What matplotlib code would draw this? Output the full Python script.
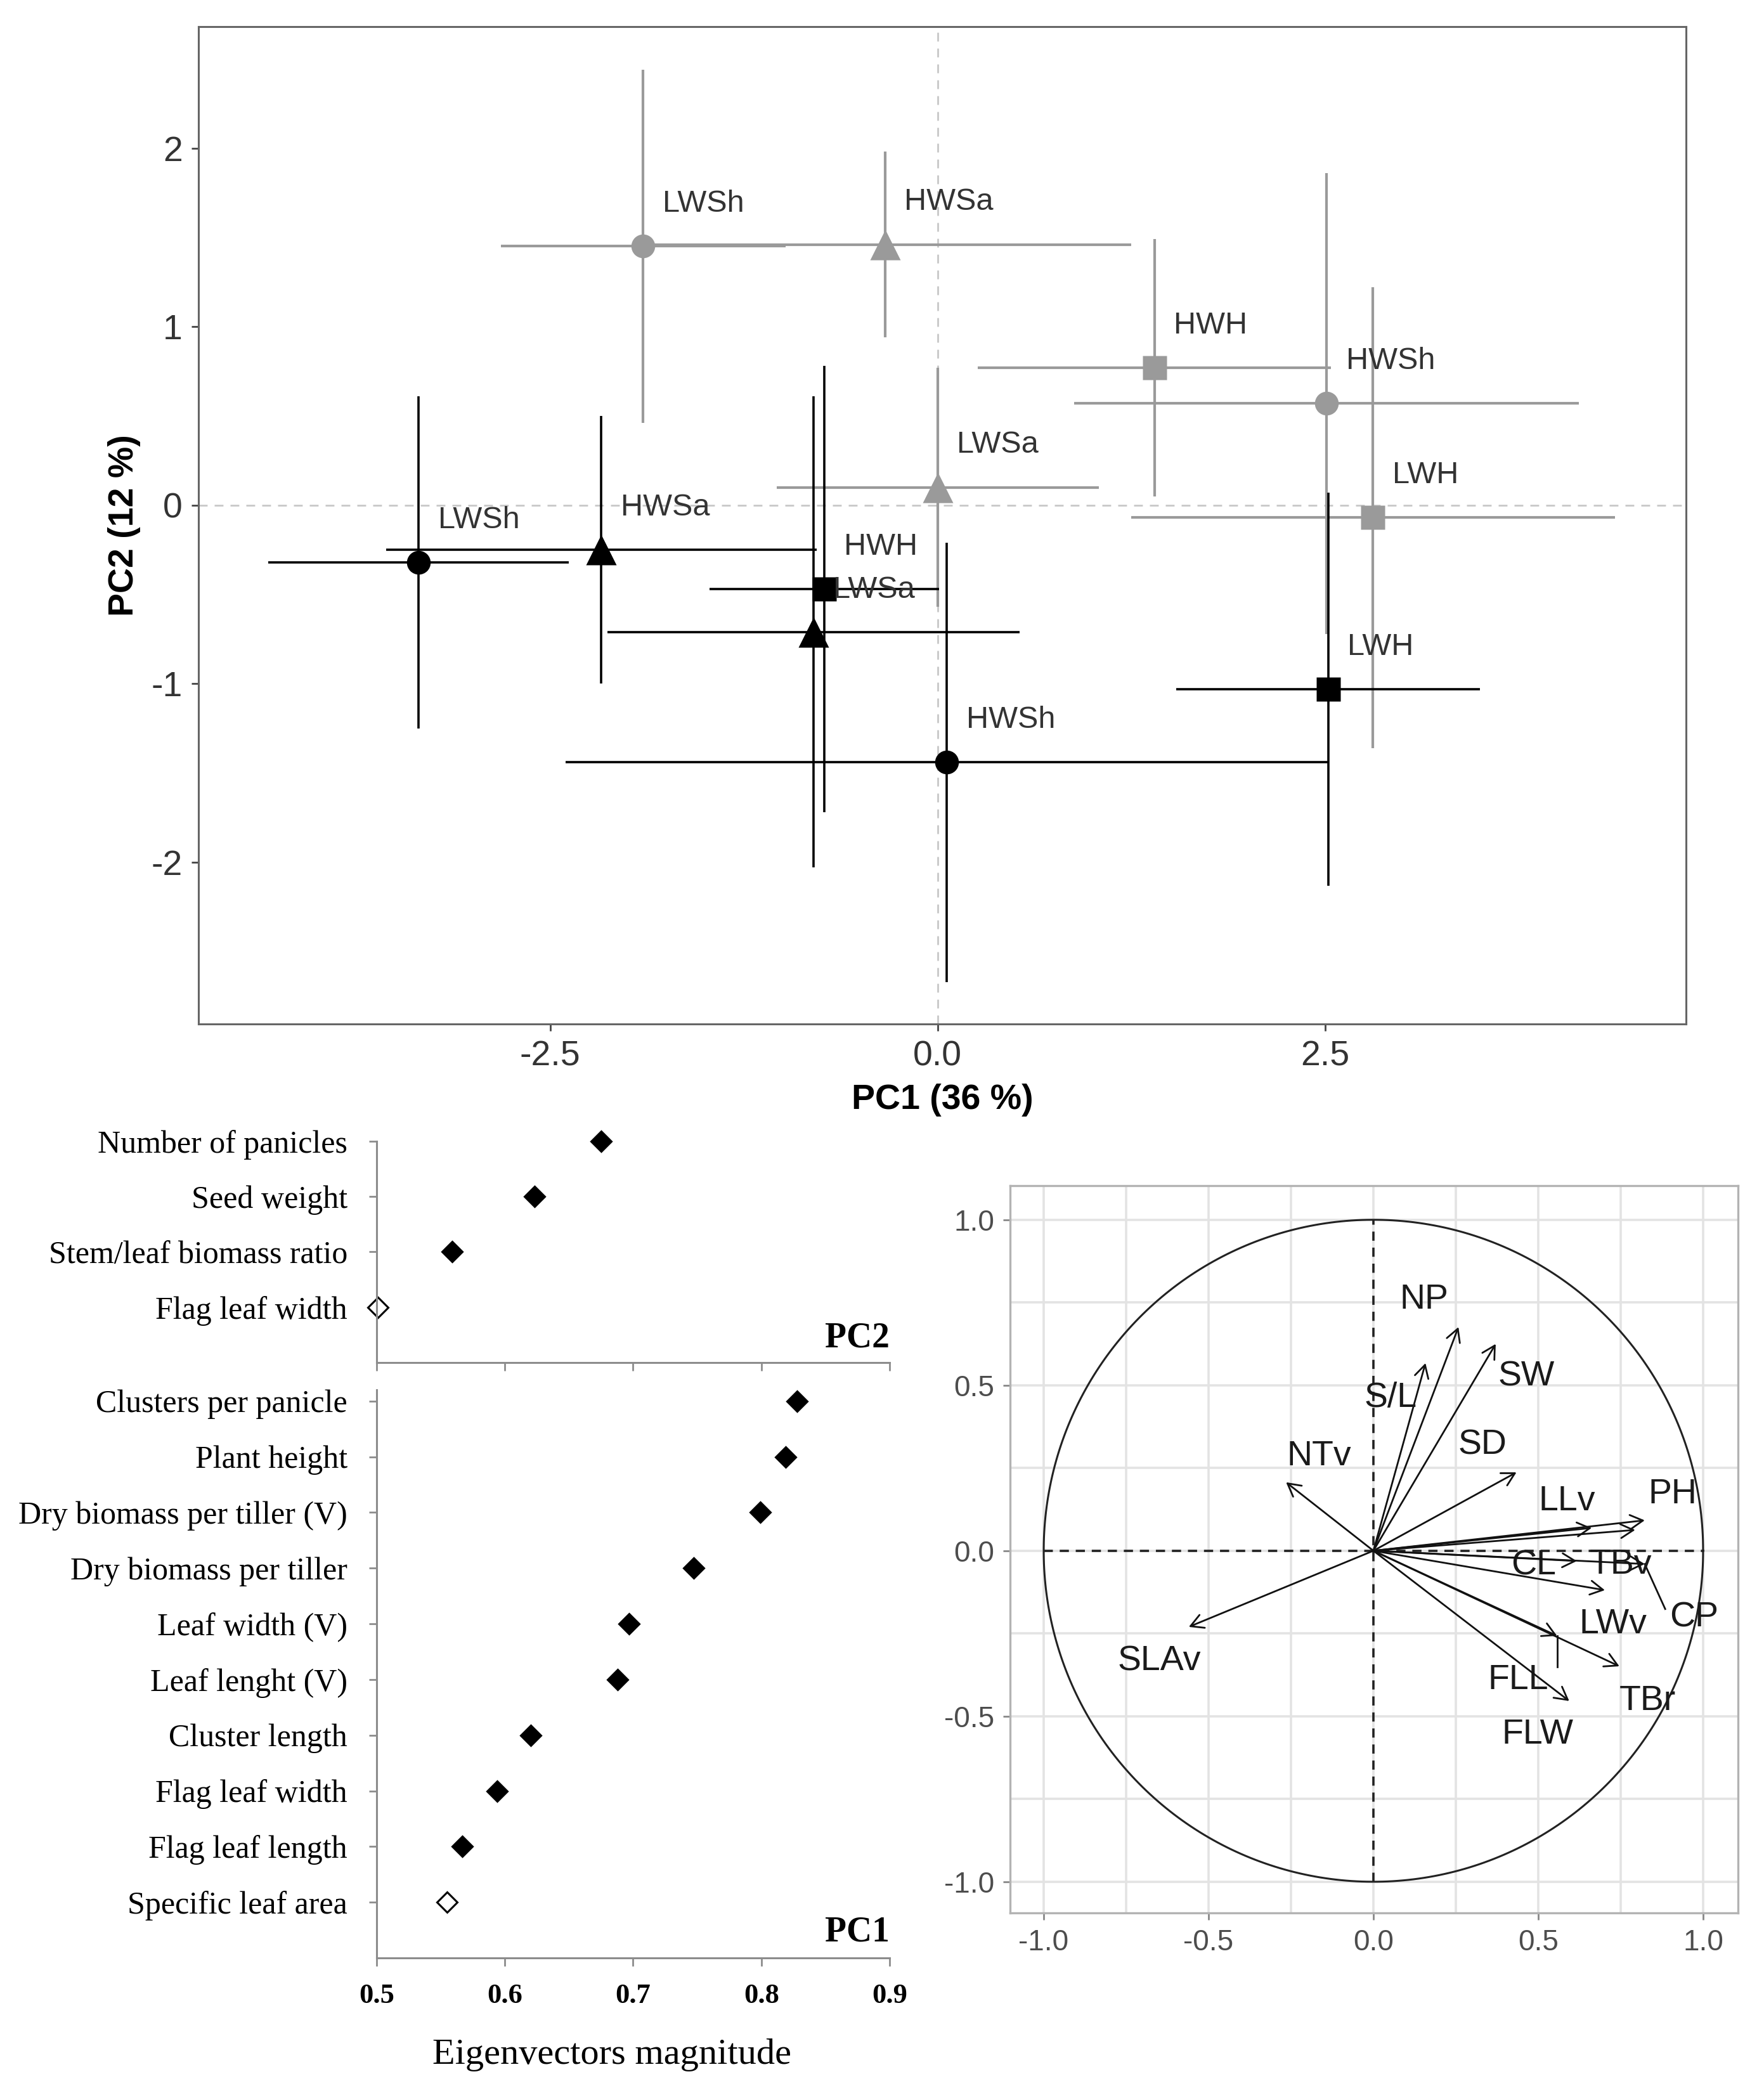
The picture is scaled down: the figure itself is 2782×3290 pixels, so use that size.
import matplotlib.pyplot as plt
import numpy as np

plt.rcParams['font.family'] = ['Liberation Sans', 'DejaVu Sans']
plt.rcParams['axes.unicode_minus'] = False
serif = ['Liberation Serif', 'DejaVu Serif']

# --- top: group centroids on PC1/PC2 (mean +- sd) ---
groups = ['LWSh', 'HWSa', 'HWH', 'HWSh', 'LWSa', 'LWH']
group_marker = ['o', '^', 's', 'o', '^', 's']

grey_pc1 = [-1.90, -0.34, 1.40, 2.51, 0.00, 2.81]
grey_pc2 = [1.45, 1.46, 0.77, 0.57, 0.10, -0.07]
grey_pc1_err = [0.92, 1.59, 1.14, 1.63, 1.04, 1.56]
grey_pc2_err = [0.99, 0.52, 0.72, 1.29, 0.67, 1.29]

black_pc1 = [-3.35, -2.17, -0.73, 0.06, -0.80, 2.52]
black_pc2 = [-0.32, -0.25, -0.47, -1.44, -0.71, -1.03]
black_pc1_err = [0.97, 1.39, 0.74, 2.46, 1.33, 0.98]
black_pc2_err = [0.93, 0.75, 1.25, 1.23, 1.32, 1.10]

# --- bottom left: eigenvector magnitudes ---
pc2_traits = ['Number of panicles', 'Seed weight', 'Stem/leaf biomass ratio', 'Flag leaf width']
pc2_values = [0.675, 0.623, 0.559, 0.501]
pc2_open = [False, False, False, True]

pc1_traits = ['Clusters per panicle', 'Plant height', 'Dry biomass per tiller (V)',
              'Dry biomass per tiller', 'Leaf width (V)', 'Leaf lenght (V)',
              'Cluster length', 'Flag leaf width', 'Flag leaf length', 'Specific leaf area']
pc1_values = [0.828, 0.819, 0.799, 0.747, 0.697, 0.688, 0.620, 0.594, 0.567, 0.555]
pc1_open = [False] * 9 + [True]

eig_ticks = [0.5, 0.6, 0.7, 0.8, 0.9]

# --- bottom right: correlation circle ---
var_names = ['NP', 'S/L', 'SW', 'SD', 'NTv', 'SLAv', 'PH', 'TBv', 'LLv',
             'CL', 'CP', 'LWv', 'TBr', 'FLL', 'FLW']
var_dim1 = [0.258, 0.158, 0.371, 0.434, -0.265, -0.560, 0.823, 0.794, 0.662,
            0.617, 0.823, 0.702, 0.746, 0.557, 0.594]
var_dim2 = [0.676, 0.567, 0.625, 0.237, 0.207, -0.230, 0.092, 0.063, 0.069,
            -0.031, -0.040, -0.119, -0.349, -0.257, -0.454]
label_dim1 = [0.154, 0.052, 0.463, 0.331, -0.165, -0.650, 0.908, 0.750, 0.587,
              0.485, 0.973, 0.727, 0.831, 0.440, 0.498]
label_dim2 = [0.759, 0.462, 0.525, 0.318, 0.285, -0.334, 0.171, -0.042, 0.149,
              -0.046, -0.203, -0.222, -0.454, -0.391, -0.556]
repel_end = {'CP': (0.885, -0.176), 'FLL': (0.557, -0.350)}

msize = {'o': 13.5, '^': 17, 's': 14}

fig = plt.figure(figsize=(13.91, 16.45), dpi=200)

# ================= top panel =================
ax = fig.add_axes([0.1125, 0.5091, 0.8433, 0.4781])
ax.axhline(0, color='#c8c8c8', lw=1.0, ls=(0, (5, 4)), zorder=0)
ax.axvline(0, color='#c8c8c8', lw=1.0, ls=(0, (5, 4)), zorder=0)

for xs, ys, xe, ye, col, lw in [(grey_pc1, grey_pc2, grey_pc1_err, grey_pc2_err, '#9a9a9a', 1.5),
                                (black_pc1, black_pc2, black_pc1_err, black_pc2_err, 'black', 1.3)]:
    for i, g in enumerate(groups):
        ax.errorbar(xs[i], ys[i], xerr=xe[i], yerr=ye[i], fmt='none',
                    ecolor=col, elinewidth=lw, capsize=0)
        ax.plot(xs[i], ys[i], marker=group_marker[i], ms=msize[group_marker[i]],
                color=col, mec='none', ls='none')
        ax.annotate(g, (xs[i], ys[i]), xytext=(11, 24), textcoords='offset points',
                    fontsize=17.5, color='#333333', ha='left', va='center')

ax.set_xlim(-4.77, 4.83)
ax.set_ylim(-2.906, 2.68)
ax.set_xticks([-2.5, 0, 2.5])
ax.set_xticklabels(['-2.5', '0.0', '2.5'])
ax.set_yticks([-2, -1, 0, 1, 2])
ax.tick_params(direction='out', length=4, width=1, color='#444444',
               labelsize=20, labelcolor='#333333', pad=5)
for s in ax.spines.values():
    s.set_color('#666666')
    s.set_linewidth(1.1)
ax.set_xlabel('PC1 (36 %)', fontsize=20, fontweight='bold', labelpad=6)
ax.set_ylabel('PC2 (12 %)', fontsize=20, fontweight='bold', labelpad=6)

# ================= bottom left: eigenvectors =================
def dotpanel(rect, traits, values, opens, ylim_top, tag, tag_y, show_labels):
    a = fig.add_axes(rect)
    ypos = np.arange(len(traits), 0, -1)
    for yi, v, op in zip(ypos, values, opens):
        a.plot(v, yi, 'D', ms=8, mfc='white' if op else 'black', mec='black',
               mew=1.1, clip_on=False)
    a.set_xlim(0.5, 0.9)
    a.set_ylim(0, ylim_top)
    a.set_yticks(ypos)
    a.set_yticklabels(traits, family=serif, fontsize=18)
    a.set_xticks(eig_ticks)
    if show_labels:
        a.set_xticklabels([f'{t:.1f}' for t in eig_ticks], family=serif,
                          fontsize=16, fontweight='bold')
    else:
        a.set_xticklabels([])
    a.tick_params(axis='y', length=4.5, width=1, color='#8c8c8c', pad=12)
    a.tick_params(axis='x', length=4.5, width=1, color='#8c8c8c', pad=10)
    for side in ['top', 'right']:
        a.spines[side].set_visible(False)
    for side in ['left', 'bottom']:
        a.spines[side].set_color('#8c8c8c')
        a.spines[side].set_linewidth(1.1)
    a.text(1.0, tag_y, tag, transform=a.transAxes, ha='right', va='center',
           family=serif, fontsize=20, fontweight='bold')
    return a

dotpanel([0.2135, 0.3468, 0.2908, 0.1061], pc2_traits, pc2_values, pc2_open,
         len(pc2_traits), 'PC2', 0.11, False)
dotpanel([0.2135, 0.0614, 0.2908, 0.2723], pc1_traits, pc1_values, pc1_open,
         len(pc1_traits) + 0.2, 'PC1', 0.045, True)
fig.text(0.347, 0.0149, 'Eigenvectors magnitude', ha='center', va='center',
         family=serif, fontsize=21)

# ================= bottom right: correlation circle =================
axc = fig.add_axes([0.5726, 0.0830, 0.4127, 0.3486])
axc.set_xlim(-1.102, 1.106)
axc.set_ylim(-1.094, 1.103)
major = [-1.0, -0.5, 0.0, 0.5, 1.0]
axc.set_xticks(major)
axc.set_yticks(major)
axc.set_xticks([-0.75, -0.25, 0.25, 0.75], minor=True)
axc.set_yticks([-0.75, -0.25, 0.25, 0.75], minor=True)
axc.grid(which='both', color='#e3e3e3', lw=1.3)
axc.set_axisbelow(True)
axc.set_xticklabels([f'{t:.1f}' for t in major])
axc.set_yticklabels([f'{t:.1f}' for t in major])
axc.tick_params(which='major', length=4, width=1, color='#888888',
                labelsize=16.5, labelcolor='#4d4d4d', pad=5)
axc.tick_params(which='minor', length=0)
for s in axc.spines.values():
    s.set_color('#b3b3b3')
    s.set_linewidth(1.2)

theta = np.linspace(0, 2 * np.pi, 400)
axc.plot(np.cos(theta), np.sin(theta), color='#222222', lw=1.1)
axc.plot([-1, 1], [0, 0], color='#222222', lw=1.3, ls=(0, (4, 3)))
axc.plot([0, 0], [-1, 1], color='#222222', lw=1.3, ls=(0, (4, 3)))

for name, x, y, lx, ly in zip(var_names, var_dim1, var_dim2, label_dim1, label_dim2):
    axc.annotate('', xy=(x, y), xytext=(0, 0),
                 arrowprops=dict(arrowstyle='->,head_length=0.4,head_width=0.22',
                                 color='#111111', lw=1.0, mutation_scale=18,
                                 shrinkA=0, shrinkB=0))
    if name in repel_end:
        ex, ey = repel_end[name]
        axc.plot([x, ex], [y, ey], color='#111111', lw=1.0)
    axc.text(lx, ly, name, ha='center', va='center', fontsize=20, color='#1a1a1a')

fig.savefig('out.png', dpi=200)
